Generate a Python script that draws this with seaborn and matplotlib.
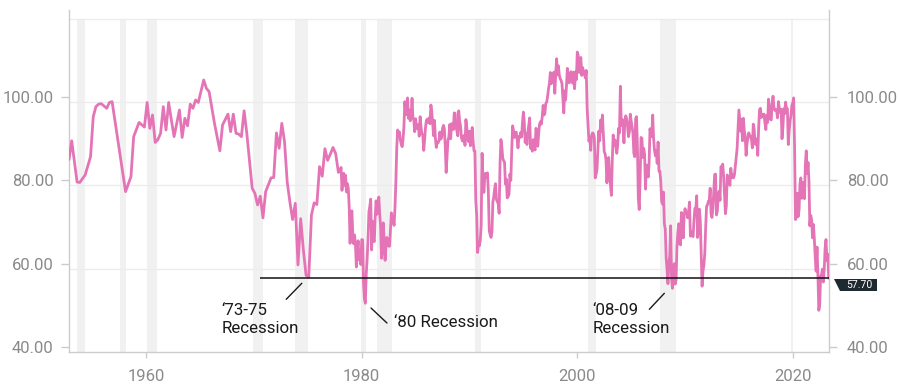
import numpy as np
import pandas as pd
import matplotlib
matplotlib.use("Agg")
import matplotlib.pyplot as plt
import matplotlib.transforms as mtransforms
from matplotlib.patches import Polygon
import seaborn as sns

# ---------------------------------------------------------------
# data: consumer sentiment index
# ---------------------------------------------------------------
# early readings (irregular / quarterly), year + month
early_year = [1952, 1953, 1953, 1953, 1954, 1954, 1955, 1955, 1955, 1955,
              1956, 1956, 1956, 1958, 1958, 1958, 1959, 1959, 1960, 1960,
              1960, 1960, 1961, 1961, 1961, 1961, 1962, 1962, 1962, 1963,
              1963, 1963, 1963, 1964, 1964, 1964, 1964, 1965, 1965, 1965,
              1966, 1966, 1967, 1967, 1967, 1968, 1968, 1968, 1968, 1969,
              1969, 1969, 1970, 1970, 1970, 1970, 1971, 1971, 1971, 1972,
              1972, 1972, 1972, 1973, 1973, 1973, 1973, 1974, 1974, 1974,
              1974, 1975, 1975, 1975, 1975, 1976, 1976, 1976, 1976, 1977,
              1977, 1977, 1977]
early_month = [11, 2, 8, 11, 5, 11, 2, 5, 8, 11,
               5, 8, 11, 2, 8, 11, 5, 11, 2, 5,
               8, 11, 2, 5, 8, 11, 2, 5, 8, 2,
               5, 8, 11, 2, 5, 8, 11, 5, 8, 11,
               5, 11, 2, 8, 11, 2, 5, 8, 11, 2,
               5, 11, 2, 5, 8, 11, 2, 8, 11, 2,
               5, 8, 11, 2, 5, 8, 11, 2, 5, 8,
               11, 2, 5, 8, 11, 2, 5, 8, 11, 2,
               5, 8, 11]
early_vals = [86.2, 90.7, 80.8, 80.7, 82.5, 86.9, 96.5, 98.9, 99.5, 99.6,
              98.5, 99.9, 100.1, 78.5, 82.1, 91.7, 95.1, 94.0, 99.9, 93.7,
              96.9, 90.3, 91.0, 92.5, 98.9, 93.3, 99.9, 95.7, 91.7, 98.1,
              91.5, 96.1, 94.3, 99.5, 98.5, 100.5, 99.9, 105.3, 103.3, 102.5,
              94.9, 88.3, 94.5, 97.1, 92.9, 97.1, 92.5, 92.3, 91.7, 97.9,
              92.5, 79.3, 78.1, 75.3, 77.4, 72.2, 78.5, 81.8, 81.9, 92.6,
              88.9, 94.9, 90.5, 80.8, 76.0, 71.8, 75.7, 60.9, 72.0, 64.5,
              58.4, 58.0, 72.9, 75.8, 75.4, 84.5, 82.2, 88.8, 86.0, 87.5,
              89.1, 87.6, 83.1]

# monthly readings, Jan 1978 - May 2023
monthly_vals = [
    83.7, 84.3, 78.8, 81.6, 82.9, 80.0, 82.4, 78.4, 80.4, 79.3, 75.0, 66.1,   # 1978
    72.1, 73.9, 68.4, 66.0, 68.1, 65.8, 60.4, 64.5, 66.7, 62.1, 63.3, 61.0,   # 1979
    67.0, 66.9, 56.5, 52.7, 51.7, 58.7, 62.3, 67.3, 73.7, 75.0, 76.7, 64.5,   # 1980
    71.4, 66.9, 66.5, 72.4, 76.3, 73.1, 74.1, 77.2, 73.1, 70.3, 62.5, 64.3,   # 1981
    71.0, 66.5, 62.0, 65.5, 67.5, 65.7, 65.4, 65.4, 69.3, 73.4, 72.1, 71.9,   # 1982
    70.4, 74.6, 80.8, 89.1, 93.3, 92.2, 92.8, 90.9, 89.9, 89.3, 91.1, 94.2,   # 1983
    100.1, 97.4, 97.0, 101.0, 96.1, 98.1, 95.5, 96.6, 100.9, 96.3, 95.7, 92.9,  # 1984
    96.0, 93.7, 93.7, 94.6, 91.8, 96.5, 94.0, 92.4, 92.1, 88.4, 90.9, 93.9,   # 1985
    95.6, 95.9, 95.1, 96.2, 94.8, 99.3, 97.7, 94.9, 91.9, 95.6, 91.4, 89.1,   # 1986
    90.4, 90.2, 90.8, 92.8, 91.1, 91.5, 93.7, 94.4, 93.6, 89.3, 83.1, 86.8,   # 1987
    90.8, 91.6, 94.6, 91.2, 94.8, 94.7, 93.4, 97.4, 97.3, 94.1, 93.0, 91.9,   # 1988
    97.9, 95.4, 94.3, 91.5, 90.7, 90.6, 92.0, 89.6, 95.8, 93.9, 90.9, 90.5,   # 1989
    93.0, 89.5, 91.3, 93.9, 90.6, 88.3, 88.2, 76.4, 72.8, 63.9, 66.0, 65.5,   # 1990
    66.8, 70.4, 87.7, 81.8, 78.3, 82.1, 82.9, 82.0, 83.0, 78.3, 69.1, 68.2,   # 1991
    67.5, 68.8, 76.0, 77.2, 79.2, 80.4, 76.6, 76.1, 75.6, 73.3, 85.3, 91.0,   # 1992
    89.3, 86.6, 85.9, 85.6, 80.3, 81.5, 77.0, 77.3, 77.9, 82.7, 81.2, 88.2,   # 1993
    94.3, 93.2, 91.5, 92.6, 92.8, 91.2, 89.0, 91.7, 91.5, 92.7, 91.6, 95.1,   # 1994
    97.6, 95.1, 90.3, 92.5, 89.8, 92.7, 94.4, 96.2, 88.9, 90.2, 88.2, 91.0,   # 1995
    89.3, 88.5, 93.7, 92.7, 89.4, 92.4, 94.7, 95.3, 94.7, 96.5, 99.2, 96.9,   # 1996
    97.4, 99.7, 100.0, 101.4, 103.2, 104.5, 107.1, 104.4, 106.0, 105.6, 107.2, 102.1,  # 1997
    106.6, 110.4, 106.5, 108.7, 106.5, 105.6, 105.2, 104.4, 100.9, 97.4, 102.7, 100.5,  # 1998
    103.9, 108.1, 105.7, 104.6, 106.8, 107.3, 106.0, 104.5, 107.2, 103.2, 107.2, 105.4,  # 1999
    112.0, 111.3, 107.1, 109.2, 110.7, 106.4, 108.3, 107.3, 106.8, 105.8, 107.6, 98.4,  # 2000
    94.7, 90.6, 91.5, 88.4, 92.0, 92.6, 92.4, 91.5, 81.8, 82.7, 83.9, 88.8,   # 2001
    93.0, 90.7, 95.7, 93.0, 96.9, 92.4, 88.1, 87.6, 86.1, 80.6, 84.2, 86.7,   # 2002
    82.4, 79.9, 77.6, 86.0, 92.1, 89.7, 90.9, 89.3, 87.7, 89.6, 93.7, 92.6,   # 2003
    103.8, 94.4, 95.8, 94.2, 90.2, 95.6, 96.7, 95.9, 94.2, 91.7, 92.8, 97.1,  # 2004
    95.5, 94.1, 92.6, 87.7, 86.9, 96.0, 96.5, 89.1, 76.9, 74.2, 81.6, 91.5,   # 2005
    91.2, 86.7, 88.9, 87.4, 79.1, 84.9, 84.7, 82.0, 85.4, 93.6, 92.1, 91.7,   # 2006
    96.9, 91.3, 88.4, 87.1, 88.3, 85.3, 90.4, 83.4, 83.4, 80.9, 76.1, 75.5,   # 2007
    78.4, 70.8, 69.5, 62.6, 59.8, 56.4, 61.2, 63.0, 70.3, 57.6, 55.3, 60.1,   # 2008
    61.2, 56.3, 57.3, 65.1, 68.7, 70.8, 66.0, 65.7, 73.5, 70.6, 67.4, 72.5,   # 2009
    74.4, 73.6, 73.6, 72.2, 73.6, 76.0, 67.8, 68.9, 68.2, 67.7, 71.6, 74.5,   # 2010
    74.2, 77.5, 67.5, 69.8, 74.3, 71.5, 63.7, 55.8, 59.5, 60.8, 63.7, 69.9,   # 2011
    75.0, 75.3, 76.2, 76.4, 79.3, 73.2, 72.3, 74.3, 78.3, 82.6, 82.7, 72.9,   # 2012
    73.8, 77.6, 78.6, 76.4, 84.5, 84.1, 85.1, 82.1, 77.5, 73.2, 75.1, 82.5,   # 2013
    81.2, 81.6, 80.0, 84.1, 81.9, 82.5, 81.8, 82.5, 84.6, 86.9, 88.8, 93.6,   # 2014
    98.1, 95.4, 93.0, 95.9, 90.7, 96.1, 93.1, 91.9, 87.2, 90.0, 91.3, 92.6,   # 2015
    92.0, 91.7, 91.0, 89.0, 94.7, 93.5, 90.0, 89.8, 91.2, 87.2, 93.8, 98.2,   # 2016
    98.5, 96.3, 96.9, 97.0, 97.1, 95.0, 93.4, 96.8, 95.1, 100.7, 98.5, 95.9,  # 2017
    95.7, 99.7, 101.4, 98.8, 98.0, 98.2, 97.9, 96.2, 100.1, 98.6, 97.5, 98.3,  # 2018
    91.2, 93.8, 98.4, 97.2, 100.0, 98.2, 98.4, 89.8, 93.2, 95.5, 96.8, 99.3,  # 2019
    99.8, 101.0, 89.1, 71.8, 72.3, 78.1, 72.5, 74.1, 80.4, 81.8, 76.9, 80.7,  # 2020
    79.0, 76.8, 84.9, 88.3, 82.9, 85.5, 81.2, 70.3, 72.8, 71.7, 67.4, 70.6,   # 2021
    67.2, 62.8, 59.4, 65.2, 58.4, 50.0, 51.5, 58.2, 58.6, 59.9, 56.8, 59.7,   # 2022
    64.9, 67.0, 62.0, 63.5, 57.7,                                             # 2023
]

# recession shading (start, end) in decimal years
rec_start = [1953.55, 1957.6, 1960.1, 1969.9, 1973.8, 1979.93, 1981.4, 1990.5, 2001.0, 2007.7, 2019.8]
rec_end = [1954.3, 1958.1, 1961.0, 1970.8, 1975.05, 1980.4, 1982.8, 1991.1, 2001.7, 2009.2, 2020.05]

latest = 57.7
x_ticks = [1960, 1980, 2000, 2020]
y_ticks = [40, 60, 80, 100]

# ---------------------------------------------------------------
# build frame
# ---------------------------------------------------------------
early_dates = [y + (m - 1) / 12 for y, m in zip(early_year, early_month)]
monthly_dates = [1978 + i / 12 for i in range(len(monthly_vals))]
df = pd.DataFrame({
    "date": early_dates + monthly_dates,
    "value": early_vals + monthly_vals,
})

# ---------------------------------------------------------------
# plot
# ---------------------------------------------------------------
sns.set_theme(style="white")
plt.rcParams["font.family"] = ["Roboto", "DejaVu Sans"]

fig = plt.figure(figsize=(9, 3.89), dpi=100)
ax = fig.add_axes([69 / 900, 37 / 389, 759.7 / 900, 342 / 389])

x_min, x_max = df["date"].iloc[0], df["date"].iloc[-1]

for s, e in zip(rec_start, rec_end):
    ax.fill_between([s, e], 40, 120, color="#f1f1f1", lw=0, zorder=0)

for v in [60, 80, 100, 120]:
    ax.axhline(v, color="#ececec", lw=1, zorder=0.5)

sns.lineplot(data=df, x="date", y="value", ax=ax, color="#e474b6",
             lw=2, estimator=None, sort=False, zorder=3)

ax.hlines(latest, 1970.6, x_max, color="#111111", lw=1.1, zorder=4)

ax.set_xlim(x_min, x_max)
ax.set_ylim(40, 122.1)
ax.set_xlabel("")
ax.set_ylabel("")

ax.set_xticks(x_ticks)
ax.set_xticklabels([str(t) for t in x_ticks])
ax.set_yticks(y_ticks)
ax.set_yticklabels([f"{t:.2f}" for t in y_ticks])

ax.tick_params(axis="x", bottom=True, length=4, width=1, color="#cccccc",
               labelsize=12, labelcolor="#8a8a8a", pad=8)
ax.tick_params(axis="y", left=True, right=True, labelleft=True, labelright=True,
               length=6, width=1, color="#cccccc", labelsize=12,
               labelcolor="#8a8a8a", pad=5)

# tick labels sit a little above their gridlines in the original
offset = mtransforms.ScaledTranslation(0, 0.05, fig.dpi_scale_trans)
r_off = mtransforms.ScaledTranslation(0.03, 0.05, fig.dpi_scale_trans)
for tick in ax.yaxis.get_major_ticks():
    for art in (tick.tick1line, tick.tick2line, tick.label1):
        art.set_transform(art.get_transform() + offset)
    tick.label2.set_transform(tick.label2.get_transform() + r_off)

for side in ["left", "right", "bottom"]:
    ax.spines[side].set_color("#cccccc")
    ax.spines[side].set_linewidth(1)
ax.spines["top"].set_visible(False)
ax.grid(False)

# annotations
txt_kw = dict(fontsize=12.2, color="#1a1a1a", va="center", ha="left",
              linespacing=1.3, zorder=5)
ax.text(1967.0, 47.8, "\u201873-75\nRecession", **txt_kw)
ax.plot([1972.99, 1974.44], [52.65, 56.5], color="#1a1a1a", lw=1, zorder=5)
ax.text(1982.95, 47.0, "\u201880 Recession", **txt_kw)
ax.plot([1980.86, 1982.34], [50.56, 46.96], color="#1a1a1a", lw=1, zorder=5)
ax.text(2001.4, 47.8, "\u201808-09\nRecession", **txt_kw)
ax.plot([2006.69, 2008.08], [50.25, 54.09], color="#1a1a1a", lw=1, zorder=5)

# value tag at the right of the latest-value line
y_px = ax.transData.transform((x_max, latest))[1]
W, H = 900, 389
tag = [(834, y_px - 1), (877, y_px - 1), (877, y_px - 13), (840, y_px - 13)]
fig.add_artist(Polygon([(px / W, py / H) for px, py in tag], closed=True,
                       transform=fig.transFigure, facecolor="#1e2a32",
                       edgecolor="none"))
fig.text(859.5 / W, (y_px - 7) / H, f"{latest:.2f}", color="white",
         fontsize=7.5, ha="center", va="center")

plt.savefig("out.png", dpi=100)
